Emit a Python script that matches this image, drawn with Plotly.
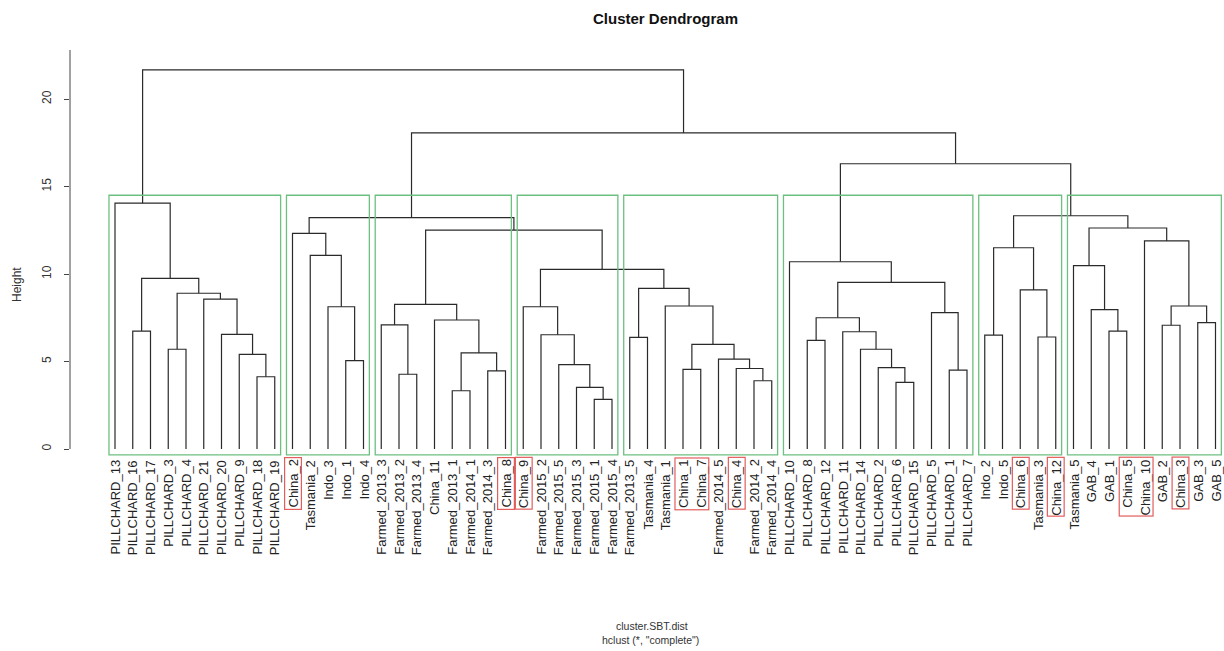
import plotly.graph_objects as go

# ---------------- data ----------------
leaf_labels = [
    "PILLCHARD_13", "PILLCHARD_16", "PILLCHARD_17", "PILLCHARD_3", "PILLCHARD_4",
    "PILLCHARD_21", "PILLCHARD_20", "PILLCHARD_9", "PILLCHARD_18", "PILLCHARD_19",
    "China_2", "Tasmania_2", "Indo_3", "Indo_1", "Indo_4",
    "Farmed_2013_3", "Farmed_2013_2", "Farmed_2013_4", "China_11", "Farmed_2013_1",
    "Farmed_2014_1", "Farmed_2014_3", "China_8",
    "China_9", "Farmed_2015_2", "Farmed_2015_5", "Farmed_2015_3", "Farmed_2015_1", "Farmed_2015_4",
    "Farmed_2013_5", "Tasmania_4", "Tasmania_1", "China_1", "China_7", "Farmed_2014_5",
    "China_4", "Farmed_2014_2", "Farmed_2014_4",
    "PILLCHARD_10", "PILLCHARD_8", "PILLCHARD_12", "PILLCHARD_11", "PILLCHARD_14",
    "PILLCHARD_2", "PILLCHARD_6", "PILLCHARD_15", "PILLCHARD_5", "PILLCHARD_1", "PILLCHARD_7",
    "Indo_2", "Indo_5", "China_6", "Tasmania_3", "China_12",
    "Tasmania_5", "GAB_4", "GAB_1", "China_5", "China_10", "GAB_2", "China_3", "GAB_3", "GAB_5",
]

# hclust-style merge table: negative = leaf (1-based, in plotted order), positive = earlier merge row
merge_left = [
    -9, -8, -7, -6, -4, 5, -2, 7, -1,
    -14, -13, -12, -11,
    -17, -16, -20, -22, 16, -19, 15,
    -28, -27, -26, -25, -24,
    -30, -33, -37, -36, -35, 27, -32, 26, 25, 20, 13,
    -40, -45, -44, -43, -42, 37, -48, -47, 42, -39,
    -50, -53, -52, 47,
    -57, -56, -55, -60, -62, 54, -59, 53, 50, 46, 36, 9,
]
merge_right = [
    -10, 1, 2, 3, -5, 4, -3, 6, 8,
    -15, 10, 11, 12,
    -18, 14, -21, -23, 17, 18, 19,
    -29, 21, 22, 23, 24,
    -31, -34, -38, 28, 29, 30, 31, 32, 33, 34, 35,
    -41, -46, 38, 39, 40, 41, -49, 43, 44, 45,
    -51, -54, 48, 49,
    -58, 51, 52, -61, -63, 55, 56, 57, 58, 59, 60, 61,
]
merge_height = [
    4.13, 5.41, 6.55, 8.57, 5.70, 8.90, 6.74, 9.75, 14.05,
    5.05, 8.13, 11.07, 12.32,
    4.27, 7.09, 3.33, 4.46, 5.49, 7.37, 8.27,
    2.84, 3.52, 4.82, 6.53, 8.13,
    6.38, 4.55, 3.90, 4.60, 5.14, 5.98, 8.17, 9.18, 10.27, 12.51, 13.22,
    6.21, 3.81, 4.65, 5.70, 6.70, 7.50, 4.51, 7.79, 9.52, 10.70,
    6.51, 6.40, 9.09, 11.50,
    6.74, 7.96, 10.48, 7.07, 7.22, 8.17, 11.89, 12.63, 13.33, 16.30, 18.06, 21.66,
]

# groups highlighted with rectangles (sizes in plotted order) and the cut height
group_sizes = [10, 5, 8, 6, 9, 11, 5, 9]
cut_height = 14.5

# labels boxed in red
boxed_groups = [["China_2"], ["China_8"], ["China_9"], ["China_1", "China_7"], ["China_4"],
                ["China_6"], ["China_12"], ["China_5", "China_10"], ["China_3"]]

y_ticks = [0, 5, 10, 15, 20]

# ---------------- layout constants ----------------
W, H = 1224, 651
ML, MR, MT, MB = 70, 0, 50, 195
PLOT_W = W - ML - MR
PLOT_H = H - MT - MB
LEAF_PX = 17.75
FIRST_LEAF_PX = 115
Y_RANGE = [-0.4, 22.8]
X_RANGE = [1 - (FIRST_LEAF_PX - ML) / LEAF_PX, 1 + (W - MR - FIRST_LEAF_PX) / LEAF_PX]

LINE_COLOR = "#2a2a2a"
GREEN = "#6cc080"
RED = "#e35d5d"
FONT = "Liberation Sans, Arial, sans-serif"


def px_x(p):
    return (p - ML) / PLOT_W


def px_y(p):
    return (MT + PLOT_H - p) / PLOT_H


# ---------------- dendrogram geometry ----------------
node_x, node_h = [], []


def child_pos(c):
    if c < 0:
        return float(-c), 0.0
    return node_x[c - 1], node_h[c - 1]


xs, ys = [], []
for a, b, h in zip(merge_left, merge_right, merge_height):
    xa, ha = child_pos(a)
    xb, hb = child_pos(b)
    xs += [xa, xa, xb, xb, None]
    ys += [ha, h, h, hb, None]
    node_x.append((xa + xb) / 2)
    node_h.append(h)

fig = go.Figure()
fig.add_trace(go.Scatter(x=xs, y=ys, mode="lines",
                         line=dict(color=LINE_COLOR, width=1.2),
                         hoverinfo="skip", showlegend=False))

# group rectangles (rect.hclust style)
start = 0
for s in group_sizes:
    fig.add_shape(type="rect", xref="x", yref="y",
                  x0=start + 0.66, x1=start + s + 0.33,
                  y0=-0.34, y1=cut_height,
                  line=dict(color=GREEN, width=1.3), fillcolor="rgba(0,0,0,0)")
    start += s

# leaf labels
LABEL_SIZE = 13
for i, lab in enumerate(leaf_labels, start=1):
    fig.add_annotation(x=i, xref="x", y=0, yref="paper", yshift=-2,
                       text=lab, textangle=-90, showarrow=False,
                       xanchor="center", yanchor="top", borderpad=1,
                       font=dict(family=FONT, size=LABEL_SIZE, color="#222"))

# red boxes around China labels
pos_of = {lab: i for i, lab in enumerate(leaf_labels, start=1)}
for grp in boxed_groups:
    idx = [pos_of[g] for g in grp]
    longest = max(grp, key=len)
    fig.add_annotation(x=sum(idx) / len(idx), xref="x", y=0, yref="paper", yshift=-1,
                       text=longest, textangle=-90, showarrow=False,
                       xanchor="center", yanchor="top",
                       height=len(grp) * LEAF_PX - 4.5,
                       borderpad=1, borderwidth=1.2, bordercolor=RED,
                       font=dict(family=FONT, size=LABEL_SIZE, color="rgba(0,0,0,0)"))

# y axis line (R style: from 0 up)
fig.add_shape(type="line", xref="paper", yref="y", x0=0, x1=0, y0=0, y1=Y_RANGE[1],
              line=dict(color="#444", width=1))

# titles / texts
fig.add_annotation(x=px_x(665), y=px_y(19), xref="paper", yref="paper",
                   xanchor="center", yanchor="middle",
                   text="<b>Cluster Dendrogram</b>", showarrow=False,
                   font=dict(family=FONT, size=15, color="#111"))
fig.add_annotation(x=px_x(17), y=px_y(285), xref="paper", yref="paper",
                   xanchor="center", yanchor="middle",
                   text="Height", textangle=-90, showarrow=False,
                   font=dict(family=FONT, size=12, color="#333"))
fig.add_annotation(x=px_x(652), y=px_y(626), xref="paper", yref="paper",
                   xanchor="center", yanchor="middle",
                   text="cluster.SBT.dist", showarrow=False,
                   font=dict(family=FONT, size=10.5, color="#333"))
fig.add_annotation(x=px_x(650), y=px_y(640), xref="paper", yref="paper",
                   xanchor="center", yanchor="middle",
                   text="hclust (*, \"complete\")", showarrow=False,
                   font=dict(family=FONT, size=10.5, color="#333"))

fig.update_layout(
    width=W, height=H,
    margin=dict(l=ML, r=MR, t=MT, b=MB, pad=0),
    paper_bgcolor="white", plot_bgcolor="white",
    showlegend=False,
    xaxis=dict(range=X_RANGE, showgrid=False, zeroline=False, showline=False,
               showticklabels=False, ticks=""),
    yaxis=dict(range=Y_RANGE, showgrid=False, zeroline=False, showline=False,
               tickmode="array", tickvals=y_ticks, ticktext=[str(v) for v in y_ticks],
               ticks="outside", ticklen=5, tickcolor="#444", tickwidth=1,
               tickangle=-90, ticklabelstandoff=8,
               tickfont=dict(family=FONT, size=12, color="#333")),
)

fig.write_html("out.html", config={"displayModeBar": False},
               post_script="document.body.style.margin='0px';")
